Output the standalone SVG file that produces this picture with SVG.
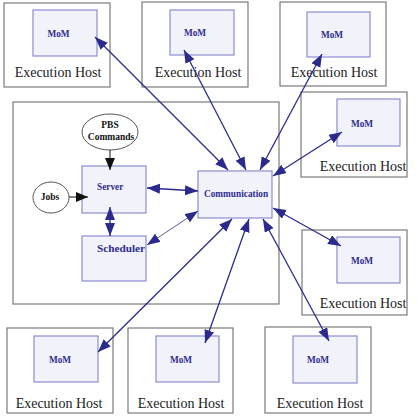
<svg xmlns="http://www.w3.org/2000/svg" width="418" height="419" viewBox="0 0 418 419">
<style>
.host{fill:#ffffff;stroke:#7a7a7a;stroke-width:1.2}
.box{fill:#f2f2fb;stroke:#8c8cd0;stroke-width:1.2}
.ell{fill:#ffffff;stroke:#555555;stroke-width:1}
.eh{font-family:"Liberation Serif","Times New Roman","DejaVu Serif",serif;font-size:14px;fill:#222222;text-anchor:middle}
.lbl{font-family:"Liberation Serif","Times New Roman","DejaVu Serif",serif;font-size:9.3px;font-weight:bold;fill:#2e2e8f}
.blk{font-family:"Liberation Serif","Times New Roman","DejaVu Serif",serif;font-size:9.5px;font-weight:bold;fill:#111111;text-anchor:middle}
.bl{stroke:#2b2b8e;stroke-width:1.3;fill:none;marker-start:url(#ab);marker-end:url(#ab)}
.thin{stroke-width:0.8}
.k{stroke:#111111;stroke-width:1;fill:none;marker-end:url(#ak)}
</style>
<defs>
<marker id="ab" markerUnits="userSpaceOnUse" markerWidth="15" markerHeight="12" refX="13" refY="5" orient="auto-start-reverse" viewBox="0 0 15 12">
<path d="M0,0 L13,5 L0,10 z" fill="#2b2b8e"/>
</marker>
<marker id="ak" markerUnits="userSpaceOnUse" markerWidth="15" markerHeight="12" refX="12" refY="5" orient="auto" viewBox="0 0 15 12">
<path d="M0,0 L12,5 L0,10 z" fill="#111111"/>
</marker>
</defs>

<g id="main-system">
<rect x="13" y="102" width="266" height="202" class="host"/>
</g>

<g id="host1"><rect x="4" y="3" width="106" height="84" class="host"/><rect x="33" y="10" width="64" height="46" class="box"/><text x="58.5" y="37" class="lbl" text-anchor="middle">MoM</text><text x="58" y="77" class="eh">Execution Host</text></g>
<g id="host2"><rect x="142" y="2" width="106" height="85" class="host"/><rect x="170" y="10" width="64" height="45" class="box"/><text x="195" y="36" class="lbl" text-anchor="middle">MoM</text><text x="198" y="77" class="eh">Execution Host</text></g>
<g id="host3"><rect x="280" y="2" width="106" height="84" class="host"/><rect x="307" y="12" width="63" height="45" class="box"/><text x="332" y="38" class="lbl" text-anchor="middle">MoM</text><text x="334" y="77" class="eh">Execution Host</text></g>
<g id="host4"><rect x="301" y="92" width="106" height="85" class="host"/><rect x="337" y="99" width="63" height="47" class="box"/><text x="362" y="127" class="lbl" text-anchor="middle">MoM</text><text x="363" y="171" class="eh">Execution Host</text></g>
<g id="host5"><rect x="302" y="230" width="105" height="85" class="host"/><rect x="337" y="237" width="63" height="46" class="box"/><text x="362" y="264" class="lbl" text-anchor="middle">MoM</text><text x="363" y="308" class="eh">Execution Host</text></g>
<g id="host6"><rect x="265" y="327" width="106" height="86" class="host"/><rect x="293" y="336" width="64" height="47" class="box"/><text x="318" y="363" class="lbl" text-anchor="middle">MoM</text><text x="320" y="408" class="eh">Execution Host</text></g>
<g id="host7"><rect x="128" y="328" width="105" height="85" class="host"/><rect x="156" y="336" width="63" height="46" class="box"/><text x="181" y="363" class="lbl" text-anchor="middle">MoM</text><text x="181" y="408" class="eh">Execution Host</text></g>
<g id="host8"><rect x="7" y="328" width="106" height="85" class="host"/><rect x="34" y="336" width="64" height="46" class="box"/><text x="60" y="363" class="lbl" text-anchor="middle">MoM</text><text x="59" y="408" class="eh">Execution Host</text></g>

<g id="pbs-commands"><ellipse cx="110" cy="132" rx="28" ry="18" class="ell"/><text x="110" y="128" class="blk">PBS</text><text x="111" y="140" class="blk">Commands</text></g>
<g id="jobs"><ellipse cx="51" cy="197.5" rx="18" ry="15.5" class="ell"/><text x="50" y="200" class="blk">Jobs</text></g>
<g id="server"><rect x="82" y="166" width="64" height="47" class="box"/><text x="97" y="190" class="lbl">Server</text></g>
<g id="scheduler"><rect x="82" y="236" width="64" height="45" class="box"/><text x="97" y="252" class="lbl" textLength="48" lengthAdjust="spacingAndGlyphs">Scheduler</text></g>
<g id="communication"><rect x="198" y="171" width="74" height="47" class="box"/><text x="204" y="197" class="lbl" font-size="9.5">Communication</text></g>

<g id="connectors">
<line x1="95" y1="37" x2="228" y2="170" class="bl"/>
<line x1="184" y1="50" x2="246" y2="170" class="bl"/>
<line x1="322" y1="54" x2="260" y2="170" class="bl"/>
<line x1="342" y1="132" x2="273" y2="176" class="bl"/>
<line x1="341" y1="246" x2="273" y2="208" class="bl"/>
<line x1="329" y1="341" x2="263" y2="219" class="bl"/>
<line x1="205" y1="343" x2="249" y2="219" class="bl"/>
<line x1="98" y1="352" x2="232" y2="219" class="bl"/>
<line x1="147" y1="188" x2="198" y2="191" class="bl"/>
<line x1="147" y1="245" x2="198" y2="211" class="bl thin"/>
<line x1="110" y1="207" x2="110" y2="236" class="bl"/>
<line x1="110" y1="150" x2="110" y2="170" class="k"/>
<line x1="69" y1="197" x2="88" y2="197" class="k"/>
</g>
</svg>
